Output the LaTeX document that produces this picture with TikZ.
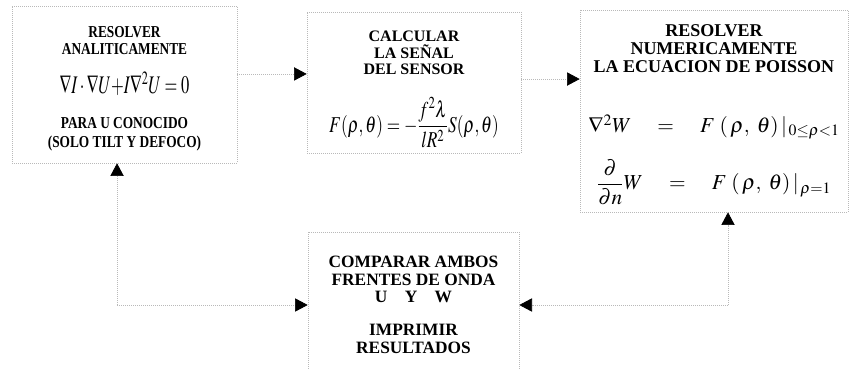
\documentclass[tikz,border=0pt]{standalone}
\usepackage{mathptmx}
\usepackage{amsmath}
\usepackage{graphicx}
\usepackage{fontspec}
\setmainfont{Liberation Serif}
\newfontfamily\narrowserif[FakeStretch=0.8]{Liberation Serif}
\usetikzlibrary{arrows.meta,positioning,calc}
\tikzset{
  box/.style={
    rectangle, draw=gray!55, densely dotted, line width=0.5pt,
    inner sep=0pt, align=center,
    font=\bfseries\fontsize{12}{12.5}\selectfont,
  },
  arr/.style={densely dotted, gray!55, line width=0.5pt,
    -{Triangle[length=9.5pt,width=10pt,color=black]}},
}

\begin{document}
\begin{tikzpicture}[x=0.75pt,y=-0.75pt]
\useasboundingbox (0,0) rectangle (853,370);

% ===== upper row =====
\node[box, minimum width=168.75pt, minimum height=117.75pt,
  font=\narrowserif\bfseries\fontsize{12.5}{13}\selectfont] (analit) at (124.5,84.5)
  {\rule{0pt}{14pt}RESOLVER\\ANALITICAMENTE\\[12pt]
   {\fontsize{19}{20}\selectfont\scalebox{0.65}[1]{$\nabla I\cdot\nabla U{+}I\nabla^2U=0$}}\\[13pt]
   PARA U CONOCIDO\\[1pt](SOLO TILT Y DEFOCO)};
\node[box, minimum width=160.5pt, minimum height=105.75pt] (senal) at (414,82.5)
  {\rule{0pt}{18.5pt}CALCULAR\\LA SEÑAL\\DEL SENSOR\\[16pt]
   {\fontsize{17}{18}\selectfont\scalebox{0.76}[1]{$F(\rho,\theta)=-\dfrac{f^2\lambda}{lR^2}S(\rho,\theta)$}}};
\node[box, minimum width=201pt, minimum height=151.5pt,
  font=\bfseries\fontsize{13.5}{13.5}\selectfont] (poisson) at (714,111)
  {\rule{0pt}{15pt}RESOLVER\\NUMERICAMENTE\\LA ECUACION DE POISSON\\[30pt]
   {\fontsize{16}{18}\selectfont$\nabla^{2}W\quad=\quad F\;(\,\rho,\;\theta)\,|_{\,0\le\rho<1}$}\\[14pt]
   {\fontsize{16}{18}\selectfont$\dfrac{\partial}{\partial n}W\quad=\quad F\;(\,\rho,\;\theta)\,|_{\,\rho=1}$}};

% ===== lower box =====
\node[box, minimum width=158.25pt, minimum height=109.5pt,
  font=\bfseries\fontsize{13}{13}\selectfont] (compara) at (413.5,305)
  {COMPARAR AMBOS\\FRENTES DE ONDA\\U\quad Y\quad W\\[12pt]IMPRIMIR\\RESULTADOS};

% ===== connectors =====
\draw[arr] ([yshift=7.9pt]analit.east) -- ([yshift=7.9pt]analit.east -| senal.west);
\draw[arr] ([yshift=2.6pt]senal.east) -- ([yshift=2.6pt]senal.east -| poisson.west);

\coordinate (lcorner) at ([xshift=-5.6pt]analit.south |- compara.west);
\coordinate (rcorner) at ([xshift=10.5pt]poisson.south |- compara.east);
\draw[arr] (lcorner) -- (lcorner |- analit.south);
\draw[arr] (lcorner) -- (compara.west);
\draw[arr] (rcorner) -- (rcorner |- poisson.south);
\draw[arr] (rcorner) -- (compara.east);

\end{tikzpicture}
\end{document}
